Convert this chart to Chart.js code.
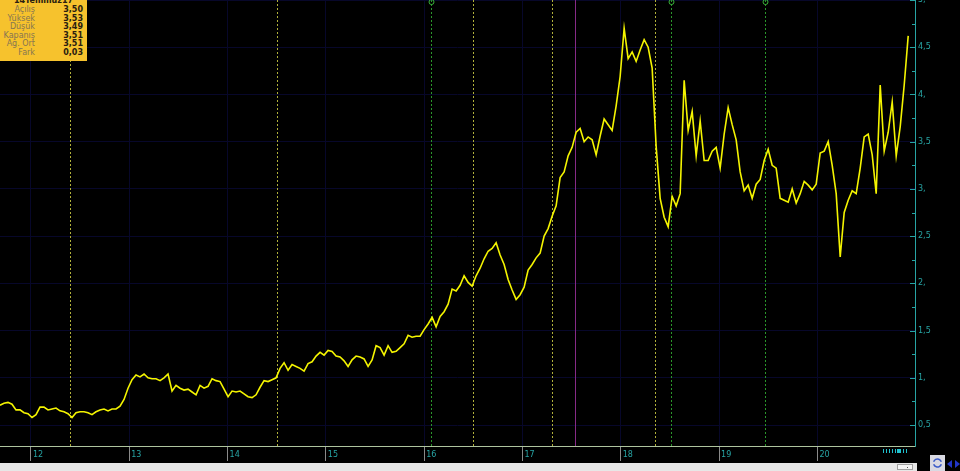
<!DOCTYPE html>
<html>
<head>
<meta charset="utf-8">
<script src="https://cdn.jsdelivr.net/npm/chart.js@4.4.1/dist/chart.umd.min.js"></script>
<style>
  html, body { margin: 0; padding: 0; background: #000; overflow: hidden; }
  #wrap { position: relative; width: 960px; height: 471px; background: #000; }
  #info {
    position: absolute; left: 0; top: 0; width: 87px; height: 61px;
    background: #f6c22d; overflow: hidden;
    font-family: "DejaVu Sans", sans-serif; font-size: 8px; color: #2a2010;
  }
  #info .title { position: absolute; left: 0; width: 87px; top: -4px; text-align: center; font-weight: bold; }
  #info .row { position: absolute; left: 0; width: 87px; height: 9px; line-height: 9px; }
  #info .lbl { position: absolute; right: 52px; color: #857552; }
  #info .val { position: absolute; right: 4px; font-weight: bold; }
</style>
</head>
<body>
<div id="wrap">
  <canvas id="priceChart" width="960" height="471"></canvas>
  <div id="info"></div>
</div>
<script>
// one value every ~2 weeks, starting mid-2011
const startYear = 11.685;
const stepYears = 0.0407;
const prices = [
  0.71, 0.73, 0.74, 0.72, 0.66, 0.66, 0.63, 0.62, 0.58, 0.61,
  0.69, 0.69, 0.66, 0.67, 0.68, 0.65, 0.64, 0.62, 0.58, 0.63,
  0.64, 0.64, 0.63, 0.61, 0.64, 0.66, 0.67, 0.65, 0.67, 0.67,
  0.70, 0.77, 0.89, 0.98, 1.03, 1.01, 1.04, 1.00, 0.99, 0.99,
  0.97, 1.00, 1.04, 0.86, 0.92, 0.89, 0.87, 0.88, 0.85, 0.82,
  0.92, 0.89, 0.91, 0.99, 0.97, 0.96, 0.88, 0.80, 0.86, 0.85,
  0.86, 0.83, 0.80, 0.79, 0.82, 0.90, 0.97, 0.96, 0.98, 1.00,
  1.10, 1.16, 1.08, 1.14, 1.12, 1.10, 1.07, 1.15, 1.17, 1.23,
  1.27, 1.24, 1.29, 1.28, 1.23, 1.22, 1.18, 1.12, 1.19, 1.23,
  1.22, 1.20, 1.12, 1.19, 1.34, 1.32, 1.24, 1.34, 1.27, 1.28,
  1.32, 1.36, 1.45, 1.43, 1.44, 1.44, 1.51, 1.57, 1.64, 1.54,
  1.65, 1.70, 1.78, 1.94, 1.92, 1.98, 2.08, 2.01, 1.97, 2.08,
  2.16, 2.26, 2.34, 2.37, 2.43, 2.30, 2.20, 2.04, 1.93, 1.83,
  1.88, 1.96, 2.14, 2.20, 2.27, 2.32, 2.50, 2.58, 2.71, 2.82,
  3.12, 3.18, 3.35, 3.44, 3.60, 3.64, 3.50, 3.55, 3.52, 3.36,
  3.56, 3.74, 3.68, 3.62, 3.88, 4.19, 4.70, 4.38, 4.45, 4.35,
  4.47, 4.58, 4.50, 4.28, 3.45, 2.90, 2.70, 2.60, 2.92, 2.82,
  2.95, 4.15, 3.62, 3.82, 3.35, 3.72, 3.30, 3.30, 3.40, 3.44,
  3.22, 3.58, 3.86, 3.68, 3.52, 3.18, 2.98, 3.04, 2.90, 3.05,
  3.10, 3.30, 3.42, 3.25, 3.22, 2.90, 2.88, 2.86, 3.00, 2.85,
  2.95, 3.08, 3.04, 2.99, 3.05, 3.38, 3.40, 3.50, 3.25, 2.95,
  2.28, 2.75, 2.88, 2.98, 2.95, 3.22, 3.55, 3.58, 3.36, 2.95,
  4.10, 3.40, 3.60, 3.92, 3.35, 3.66, 4.10, 4.62
];

// event markers (year positions)
const yellowEvents = [12.397, 14.503, 16.496, 17.300, 18.348];
const greenEvents = [16.069, 18.511, 19.467];
const purpleEvents = [17.534];

// info panel
const infoTitle = '14Temmuz17';
const infoLabels = ['Açılış', 'Yüksek', 'Düşük', 'Kapanış', 'Ağ. Ort', 'Fark'];
const infoValues = ['3,50', '3,53', '3,49', '3,51', '3,51', '0,03'];

const xMin = 11.685;
const xMax = 20.993;
const yMin = 0.278;
const yMax = 5.0;

const teal = '#27a4a4';
const navy = '#07072a';

function isMajor(v) {
  return Math.abs(v * 2 - Math.round(v * 2)) < 1e-6;
}

function formatY(v) {
  if (!isMajor(v)) {
    return '';
  }
  const whole = Math.floor(v + 1e-6);
  return Math.abs(v - whole) < 1e-6 ? whole + ',' : whole + ',5';
}

function buildInfo() {
  const box = document.getElementById('info');
  let html = '<div class="title">' + infoTitle + '</div>';
  infoLabels.forEach((label, i) => {
    const top = 5 + i * 8.6;
    html += '<div class="row" style="top:' + top + 'px"><span class="lbl">' + label +
      '</span><span class="val">' + infoValues[i] + '</span></div>';
  });
  box.innerHTML = html;
}

function drawEventLine(ctx, area, x, color, dashed) {
  ctx.save();
  ctx.strokeStyle = color;
  ctx.lineWidth = 1;
  ctx.setLineDash(dashed ? [2, 2] : []);
  ctx.beginPath();
  ctx.moveTo(Math.round(x) + 0.5, area.top);
  ctx.lineTo(Math.round(x) + 0.5, area.bottom);
  ctx.stroke();
  ctx.restore();
}

const decorPlugin = {
  id: 'decor',
  beforeDatasetsDraw(chart) {
    const { ctx, chartArea } = chart;
    const xs = chart.scales.x;

    yellowEvents.forEach((v) => drawEventLine(ctx, chartArea, xs.getPixelForValue(v), '#b0b03a', true));
    greenEvents.forEach((v) => {
      const x = xs.getPixelForValue(v);
      drawEventLine(ctx, chartArea, x, '#2a962a', true);
      ctx.save();
      ctx.strokeStyle = '#39b039';
      ctx.beginPath();
      ctx.arc(Math.round(x) + 0.5, 2, 2.5, 0, Math.PI * 2);
      ctx.stroke();
      ctx.restore();
    });
    purpleEvents.forEach((v) => drawEventLine(ctx, chartArea, xs.getPixelForValue(v), '#862a86', false));
  },
  afterDraw(chart) {
    const { ctx, chartArea } = chart;
    const ys = chart.scales.y;

    // inward tick marks on the price axis
    ctx.save();
    ctx.strokeStyle = teal;
    ctx.lineWidth = 1;
    ys.ticks.forEach((t) => {
      const y = Math.round(ys.getPixelForValue(t.value)) + 0.5;
      const len = isMajor(t.value) ? 5 : 3;
      ctx.beginPath();
      ctx.moveTo(chartArea.right - len, y);
      ctx.lineTo(chartArea.right, y);
      ctx.stroke();
    });
    ctx.restore();

    // scroll strip under the time axis
    ctx.save();
    ctx.fillStyle = '#e7e7e7';
    ctx.fillRect(0, 463, 917, 8);
    ctx.fillStyle = '#f6f6f6';
    ctx.fillRect(897, 464, 16, 6);
    ctx.strokeStyle = '#a0a0a0';
    ctx.strokeRect(897.5, 464.5, 15, 5);
    ctx.fillStyle = '#555';
    ctx.fillRect(907, 467, 1, 1);

    // overview markers
    ctx.fillStyle = '#1fc2cf';
    [883, 886, 889, 892, 895, 903, 906].forEach((x) => ctx.fillRect(x, 449, 1, 4));
    ctx.fillRect(897, 449, 4, 4);

    // navigation buttons
    ctx.fillStyle = '#d9d9e2';
    ctx.fillRect(930, 455, 15, 16);
    ctx.strokeStyle = '#3a5ac8';
    ctx.lineWidth = 1.5;
    ctx.beginPath();
    ctx.arc(937.5, 463, 4, Math.PI * 1.1, Math.PI * 1.9);
    ctx.stroke();
    ctx.beginPath();
    ctx.arc(937.5, 463, 4, Math.PI * 0.1, Math.PI * 0.9);
    ctx.stroke();
    ctx.fillStyle = '#2236c8';
    ctx.beginPath();
    ctx.moveTo(947, 464); ctx.lineTo(952, 460); ctx.lineTo(952, 468); ctx.closePath();
    ctx.fill();
    ctx.beginPath();
    ctx.moveTo(960, 464); ctx.lineTo(955, 460); ctx.lineTo(955, 468); ctx.closePath();
    ctx.fill();
    ctx.restore();
  },
};

buildInfo();

new Chart(document.getElementById('priceChart'), {
  type: 'line',
  data: {
    datasets: [{
      data: prices.map((v, i) => ({ x: startYear + i * stepYears, y: v })),
      borderColor: '#f4f400',
      borderWidth: 1.6,
      pointRadius: 0,
      tension: 0,
      fill: false,
    }],
  },
  options: {
    responsive: false,
    animation: false,
    layout: { padding: 0 },
    plugins: {
      legend: { display: false },
      tooltip: { enabled: false },
    },
    scales: {
      x: {
        type: 'linear',
        min: xMin,
        max: xMax,
        afterFit(scale) {
          scale.height = 25;
          scale.paddingLeft = 0;
          scale.paddingRight = 0;
        },
        ticks: {
          stepSize: 1,
          includeBounds: false,
          autoSkip: false,
          maxRotation: 0,
          align: 'start',
          labelOffset: 2,
          padding: -11,
          color: teal,
          font: { family: 'DejaVu Sans', size: 8 },
          callback: (v) => String(v),
        },
        grid: {
          color: navy,
          tickColor: '#8a8a8a',
          tickLength: 15,
        },
        border: { color: '#aec49e' },
      },
      y: {
        position: 'right',
        min: yMin,
        max: yMax,
        afterFit(scale) {
          scale.width = 45;
          scale.paddingTop = 0;
          scale.paddingBottom = 0;
        },
        ticks: {
          stepSize: 0.25,
          includeBounds: false,
          autoSkip: false,
          padding: 3,
          color: teal,
          font: { family: 'DejaVu Sans', size: 8 },
          callback: (v) => formatY(v),
        },
        grid: {
          color: (ctx) => (ctx.tick && isMajor(ctx.tick.value) ? navy : 'rgba(0,0,0,0)'),
          drawTicks: false,
        },
        border: { color: teal },
      },
    },
  },
  plugins: [decorPlugin],
});
</script>
</body>
</html>
